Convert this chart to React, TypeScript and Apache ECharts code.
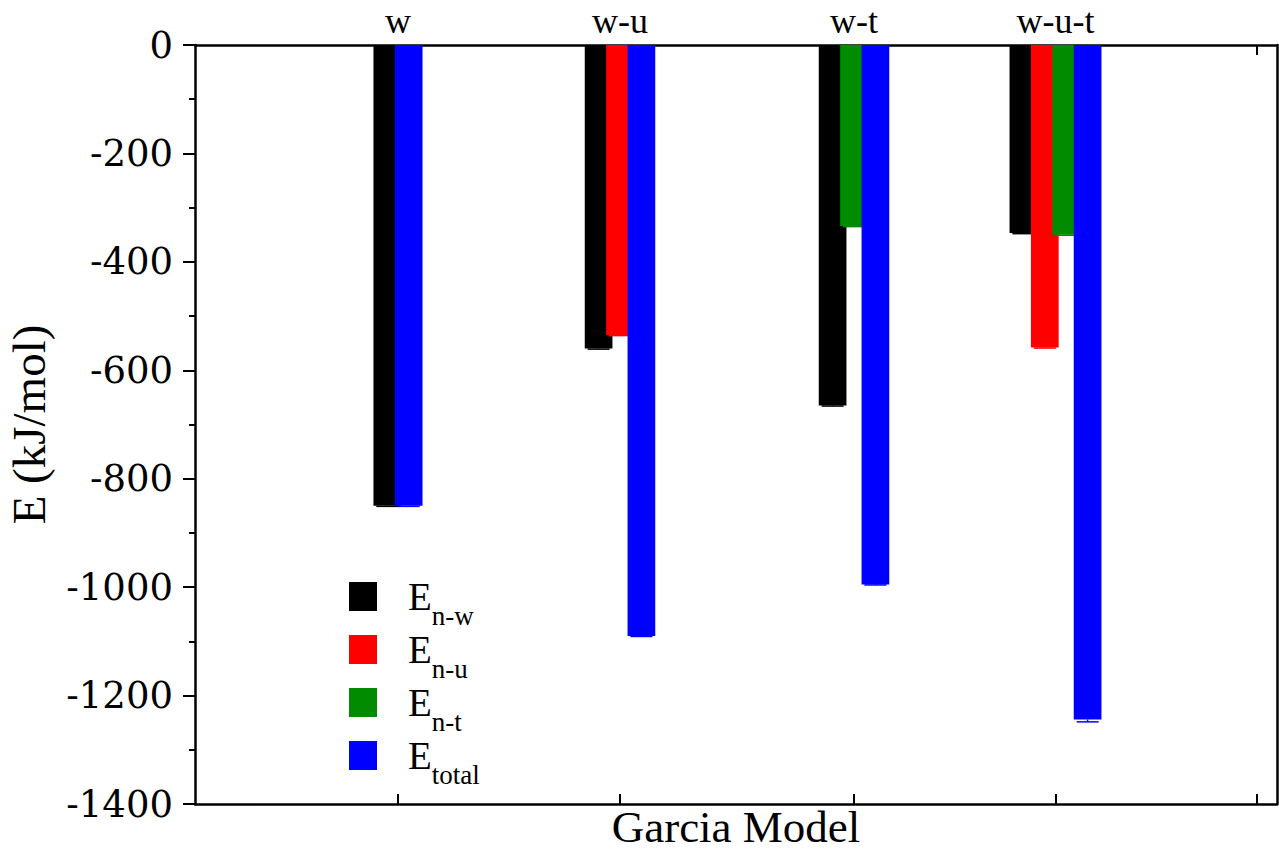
import React, { useEffect, useRef } from "react";
import * as echarts from "echarts";

// Group labels (top axis) and their positions on the x scale
const groups = ["w", "w-u", "w-t", "w-u-t"];
const groupTicks = [203, 425, 659, 860.5];
const extraTicks = [1062];
const xMin = 0;
const xMax = 1082;

// Series (subscripts of E) and values in kJ/mol
const subs = ["n-w", "n-u", "n-t", "total"];
const colors = ["#000000", "#ff0000", "#008b00", "#0000ff"];
const eNW: (number | null)[] = [-850, -560, -665, -347];
const eNU: (number | null)[] = [null, -535, null, -558];
const eNT: (number | null)[] = [null, null, -334, -350];
const eTotal: (number | null)[] = [-850, -1090, -995, -1244];
const errNW = [1, 1, 1, 1];
const errNU = [0, 1, 0, 1];
const errNT = [0, 0, 1, 1];
const errTotal = [1, 1, 1, 4.5];

const yMin = -1400;
const yMax = 0;
const yInterval = 200;

const BAR_W = 27.7;
const BAR_STEP = 21.4;
const CAP_W = 22;

const SERIF = "'Liberation Serif', 'Times New Roman', serif";

export default function App() {
  const ref = useRef<HTMLDivElement>(null);

  useEffect(() => {
    if (!ref.current) return;
    const chart = echarts.init(ref.current, undefined, { renderer: "svg" });

    const values = [eNW, eNU, eNT, eTotal];
    const errs = [errNW, errNU, errNT, errTotal];

    // bar centre positions within each group
    const seriesData: number[][][] = values.map(() => []);
    groups.forEach((_, g) => {
      const present = values.map((arr, s) => (arr[g] !== null ? s : -1)).filter((s) => s >= 0);
      const n = present.length;
      present.forEach((s, k) => {
        const x = groupTicks[g] + (k - (n - 1) / 2) * BAR_STEP;
        seriesData[s].push([x, values[s][g] as number, errs[s][g]]);
      });
    });

    const series = subs.map((sub, s) => ({
      type: "custom",
      name: "E" + sub,
      itemStyle: { color: colors[s] },
      encode: { x: 0, y: 1 },
      data: seriesData[s],
      renderItem: (params: any, api: any) => {
        const x = api.value(0);
        const v = api.value(1);
        const e = api.value(2);
        const p0 = api.coord([x, 0]);
        const p1 = api.coord([x, v]);
        const pe = api.coord([x, v - e]);
        const w = api.size([BAR_W, 0])[0];
        const cw = api.size([CAP_W, 0])[0];
        return {
          type: "group",
          children: [
            {
              type: "rect",
              shape: { x: p0[0] - w / 2, y: p0[1], width: w, height: p1[1] - p0[1] },
              style: { fill: colors[s] },
            },
            {
              type: "line",
              shape: { x1: p1[0], y1: p1[1], x2: pe[0], y2: pe[1] },
              style: { stroke: colors[s], lineWidth: 1.5 },
            },
            {
              type: "line",
              shape: { x1: pe[0] - cw / 2, y1: pe[1], x2: pe[0] + cw / 2, y2: pe[1] },
              style: { stroke: colors[s], lineWidth: 1.5 },
            },
          ],
        };
      },
    }));

    const axisLine = { show: true, onZero: false, lineStyle: { color: "#000", width: 2.5 } };

    chart.setOption({
      animation: false,
      backgroundColor: "#ffffff",
      grid: {
        left: 195,
        top: 45,
        width: 1082,
        height: 759,
        containLabel: false,
        outerBoundsMode: "none",
      },
      legend: {
        orient: "vertical",
        left: 344,
        top: 572,
        itemWidth: 28,
        itemHeight: 29,
        itemGap: -11,
        icon: "rect",
        selectedMode: false,
        data: subs.map((s) => "E" + s),
        formatter: (name: string) => `{e|E}{s|${name.slice(1)}}`,
        textStyle: {
          rich: {
            e: {
              fontFamily: SERIF,
              fontSize: 39,
              lineHeight: 39,
              color: "#000",
              verticalAlign: "top",
              padding: [0, 0, 0, 26],
            },
            s: {
              fontFamily: SERIF,
              fontSize: 27,
              lineHeight: 27,
              color: "#000",
              verticalAlign: "top",
              padding: [25, 0, 12, 0],
            },
          },
        },
      },
      xAxis: [
        {
          type: "value",
          position: "bottom",
          min: xMin,
          max: xMax,
          axisLine,
          splitLine: { show: false },
          axisTick: {
            show: true,
            inside: true,
            length: 10,
            lineStyle: { color: "#000", width: 2 },
            customValues: [...groupTicks, ...extraTicks],
          },
          axisLabel: { show: false },
          name: "Garcia Model",
          nameLocation: "middle",
          nameGap: 4,
          nameTextStyle: {
            fontFamily: SERIF,
            fontSize: 45,
            lineHeight: 38,
            color: "#000",
            verticalAlign: "top",
          },
        },
        {
          type: "value",
          position: "top",
          min: xMin,
          max: xMax,
          axisLine,
          splitLine: { show: false },
          axisTick: {
            show: true,
            inside: true,
            length: 10,
            lineStyle: { color: "#000", width: 2 },
            customValues: [...groupTicks, ...extraTicks],
          },
          axisLabel: {
            show: true,
            customValues: groupTicks,
            margin: 6,
            fontFamily: SERIF,
            fontSize: 36,
            color: "#000",
            formatter: (v: number) => {
              const i = groupTicks.findIndex((t) => Math.abs(t - v) < 0.01);
              return i >= 0 ? groups[i] : "";
            },
          },
        },
      ],
      yAxis: [
        {
          type: "value",
          position: "left",
          min: yMin,
          max: yMax,
          interval: yInterval,
          axisLine,
          splitLine: { show: false },
          axisTick: { show: true, inside: false, length: 12, lineStyle: { color: "#000", width: 2 } },
          minorTick: { show: true, splitNumber: 2, length: 6, lineStyle: { color: "#000", width: 2 } },
          axisLabel: {
            margin: 22,
            fontFamily: "'DejaVu Serif', serif",
            fontSize: 37,
            color: "#000",
            formatter: (v: number) => String(v),
          },
          name: "E (kJ/mol)",
          nameLocation: "middle",
          nameGap: 146,
          nameRotate: 90,
          nameTextStyle: { fontFamily: SERIF, fontSize: 47, lineHeight: 40, color: "#000" },
        },
        {
          type: "value",
          position: "right",
          min: yMin,
          max: yMax,
          interval: yInterval,
          axisLine,
          splitLine: { show: false },
          axisTick: { show: false },
          axisLabel: { show: false },
        },
      ],
      series,
    });

    return () => chart.dispose();
  }, []);

  return (
    <div
      ref={ref}
      style={{ position: "fixed", left: 0, top: 0, width: 1279, height: 852, background: "#fff" }}
    />
  );
}
